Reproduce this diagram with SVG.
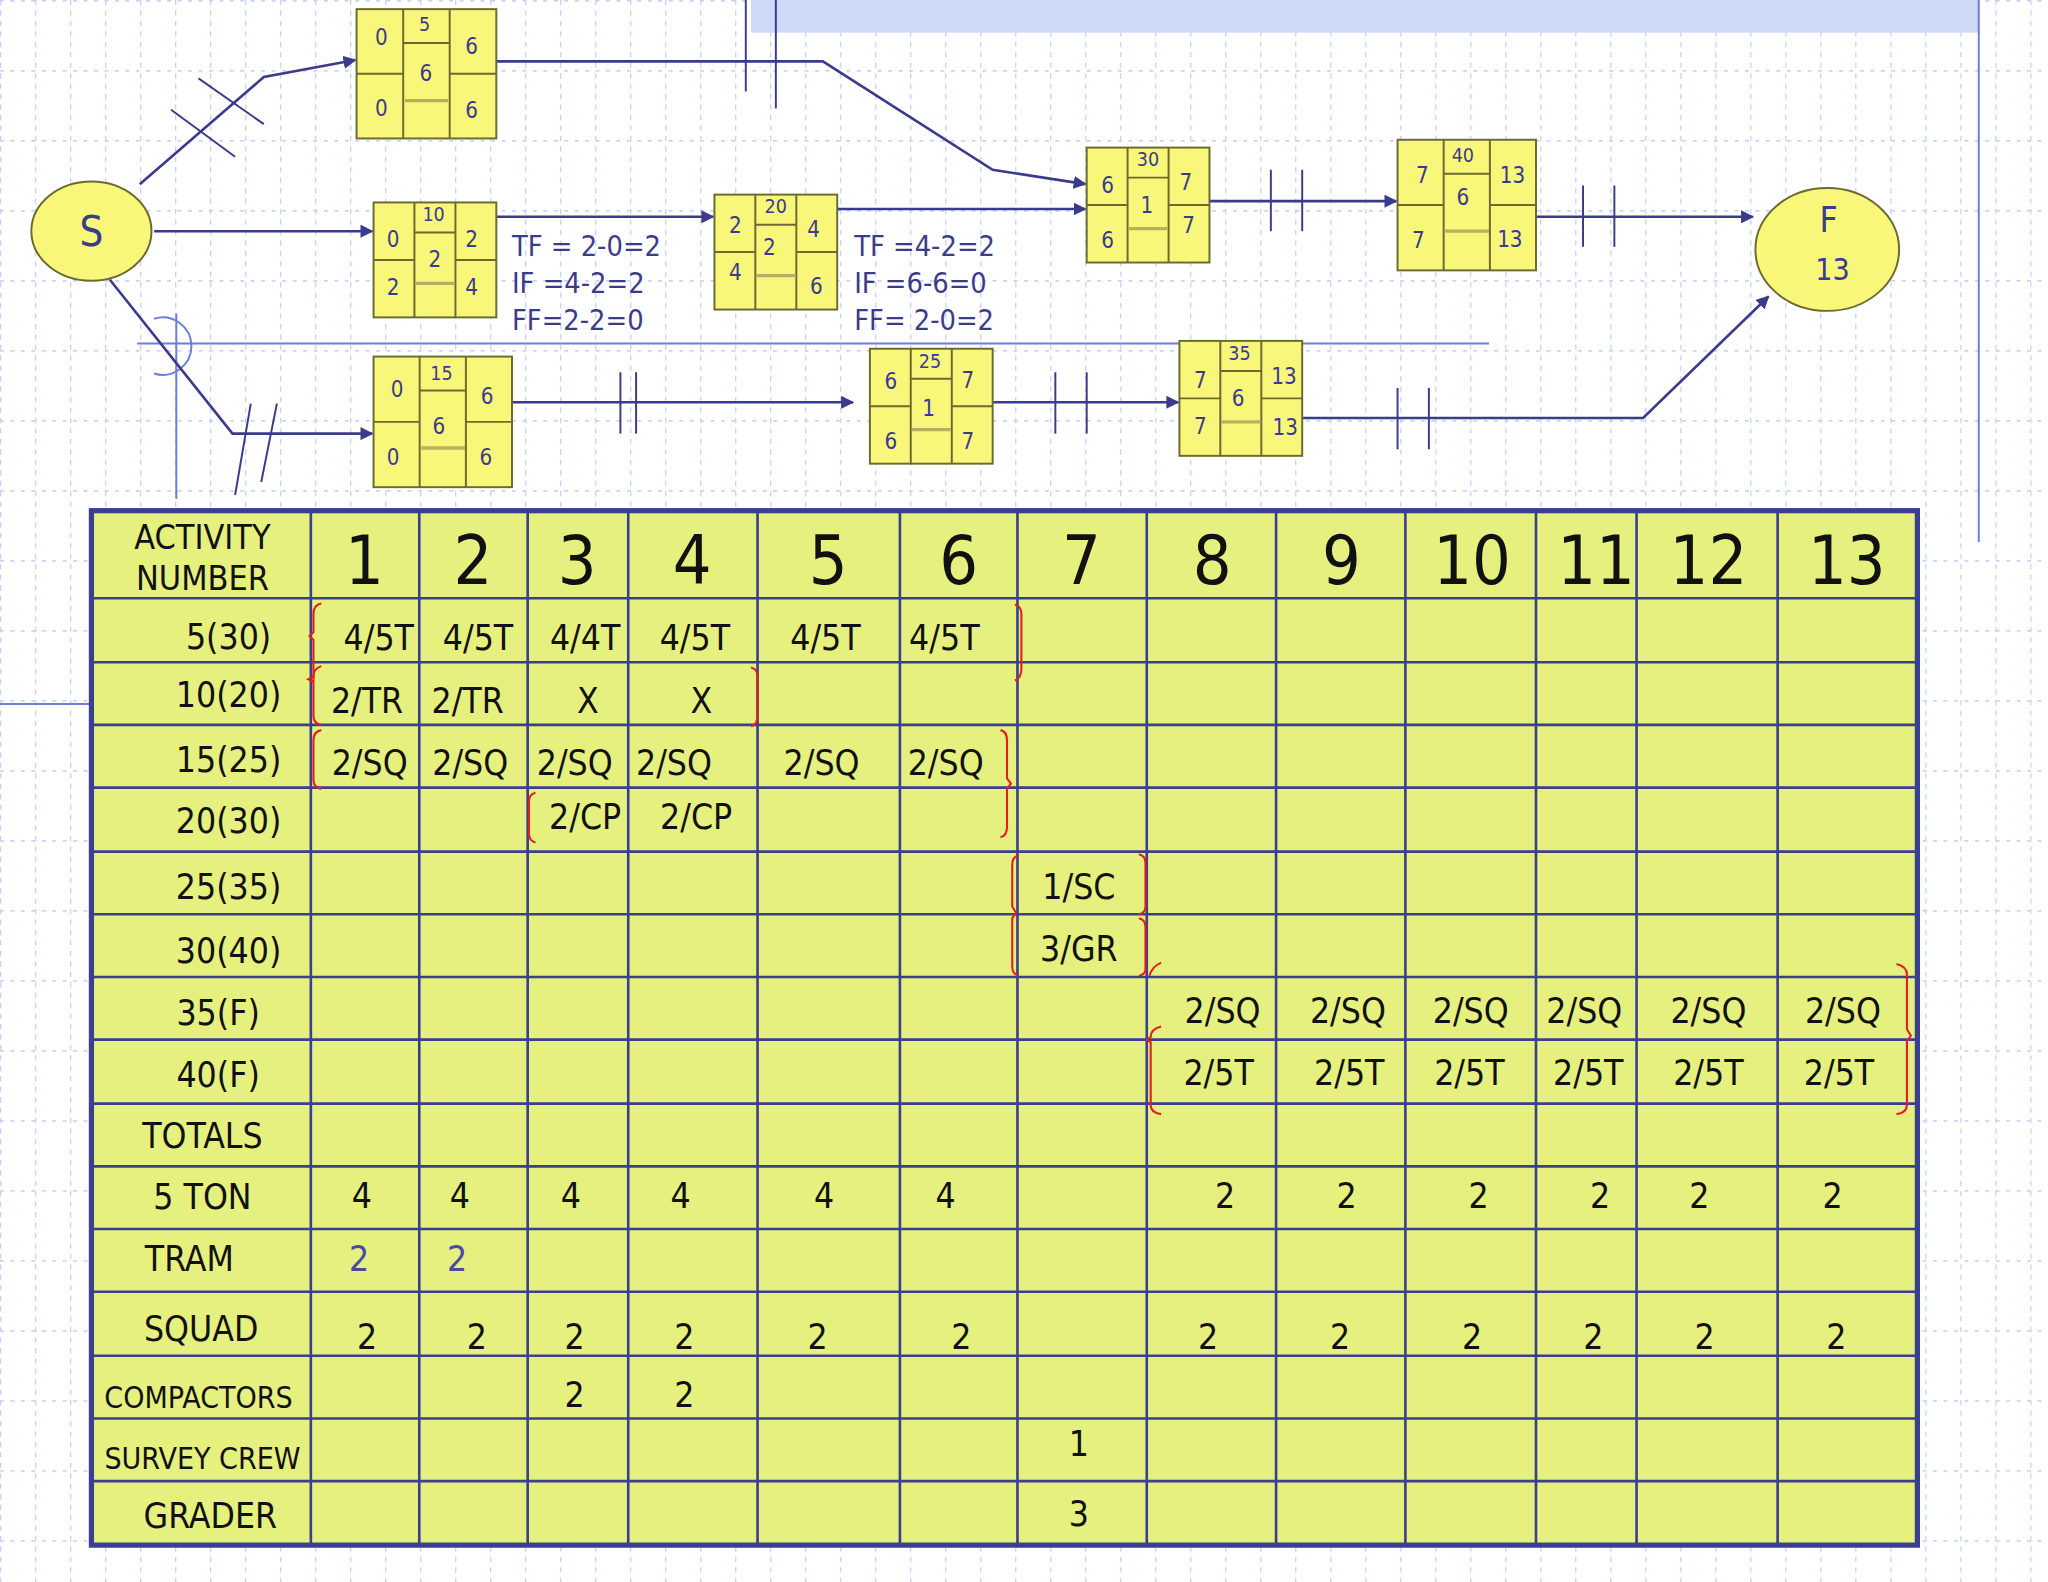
<svg xmlns="http://www.w3.org/2000/svg" width="2048" height="1582" viewBox="0 0 2048 1582">
<defs>
<style>
.t{font-family:'DejaVu Sans Condensed','DejaVu Sans',sans-serif;fill:#3b3b8c}
.n{font-size:17px;text-anchor:middle;dominant-baseline:central}
.nb{fill:#f9f77a;stroke:#6b6a30;stroke-width:1.5}
.nl{stroke:#6b6a30;stroke-width:1.5;fill:none}
.ng{stroke:#b8b060;stroke-width:2.5}
.c{stroke:#3b3b8c;stroke-width:2;fill:none}
.tk{stroke:#3b3b8c;stroke-width:1.5}
.tb{font-family:'DejaVu Sans Condensed','DejaVu Sans',sans-serif;fill:#111;text-anchor:middle}
.cell{font-size:27px}
.br{stroke:#e02020;stroke-width:1.6;fill:none}
.g{stroke:#3a3f8f;stroke-width:2}
</style>
<marker id="ah" markerWidth="10" markerHeight="10" refX="9" refY="5" orient="auto" markerUnits="userSpaceOnUse" viewBox="0 0 10 10"><path d="M0,0 L10,5 L0,10 z" fill="#3b3b8c"/></marker>
<pattern id="gridv" width="26.8" height="8" patternUnits="userSpaceOnUse"><line x1="0.5" y1="0" x2="0.5" y2="4" stroke="#c9d0f2" stroke-width="1"/></pattern>
<pattern id="gridh" width="8" height="53.6" patternUnits="userSpaceOnUse"><line x1="0" y1="0.5" x2="3" y2="0.5" stroke="#c9d0f2" stroke-width="1.5"/></pattern>
</defs>
<rect width="2048" height="1582" fill="#ffffff"/>
<g transform="scale(1.30612)">
<rect width="1568" height="1212" fill="url(#gridv)"/>
<rect width="1568" height="1212" fill="url(#gridh)"/>
<rect x="575" y="0" width="940" height="25" fill="#cdd9f7"/>
<line x1="1515" y1="0" x2="1515" y2="415" stroke="#6b7fd8" stroke-width="1.5"/>
<line x1="105" y1="263" x2="1140" y2="263" stroke="#6b7fd8" stroke-width="1.5"/>
<line x1="135" y1="240" x2="135" y2="382" stroke="#6b7fd8" stroke-width="1.5"/>
<path d="M118,244 A22,22 0 1,1 118,286" stroke="#6b7fd8" stroke-width="1.5" fill="none"/>
<line x1="0" y1="539" x2="70" y2="539" stroke="#6b7fd8" stroke-width="1.5"/>

<g id="connectors">
<polyline class="c" points="107,141 202,59 272,46" marker-end="url(#ah)"/>
<line class="tk" x1="131" y1="84" x2="180" y2="120"/>
<line class="tk" x1="152" y1="60" x2="202" y2="95"/>
<polyline class="c" points="380,47 630,47 760,130 831,141" marker-end="url(#ah)"/>
<line class="tk" x1="571" y1="0" x2="571" y2="70"/>
<line class="tk" x1="594" y1="0" x2="594" y2="83"/>
<line class="c" x1="118" y1="177" x2="285" y2="177" marker-end="url(#ah)"/>
<line class="c" x1="380" y1="166" x2="546" y2="166" marker-end="url(#ah)"/>
<line class="c" x1="641" y1="160" x2="831" y2="160" marker-end="url(#ah)"/>
<line class="c" x1="926" y1="154" x2="1069" y2="154" marker-end="url(#ah)"/>
<line class="tk" x1="973" y1="130" x2="973" y2="177"/>
<line class="tk" x1="997" y1="130" x2="997" y2="177"/>
<line class="c" x1="1176" y1="166" x2="1342" y2="166" marker-end="url(#ah)"/>
<line class="tk" x1="1212" y1="142" x2="1212" y2="189"/>
<line class="tk" x1="1236" y1="142" x2="1236" y2="189"/>
<polyline class="c" points="84,214 178,332 285,332" marker-end="url(#ah)"/>
<line class="tk" x1="180" y1="379" x2="192" y2="309"/>
<line class="tk" x1="200" y1="369" x2="212" y2="309"/>
<line class="c" x1="392" y1="308" x2="653" y2="308" marker-end="url(#ah)"/>
<line class="tk" x1="475" y1="285" x2="475" y2="332"/>
<line class="tk" x1="487" y1="285" x2="487" y2="332"/>
<line class="c" x1="760" y1="308" x2="902" y2="308" marker-end="url(#ah)"/>
<line class="tk" x1="808" y1="285" x2="808" y2="332"/>
<line class="tk" x1="832" y1="285" x2="832" y2="332"/>
<polyline class="c" points="997,320 1258,320 1354,227" marker-end="url(#ah)"/>
<line class="tk" x1="1070" y1="297" x2="1070" y2="344"/>
<line class="tk" x1="1094" y1="297" x2="1094" y2="344"/>
</g>

<g id="S"><ellipse cx="70" cy="177" rx="46" ry="38" class="nb"/><text class="t" x="70" y="177" font-size="32" text-anchor="middle" dominant-baseline="central">S</text></g>
<g id="F"><ellipse cx="1399" cy="191" rx="55" ry="47" class="nb"/><text class="t" x="1400" y="168" font-size="27" text-anchor="middle" dominant-baseline="central">F</text><text class="t" x="1403" y="206" font-size="23" text-anchor="middle" dominant-baseline="central">13</text></g>

<g id="n5"><rect class="nb" x="273" y="7" width="107" height="99"/><path class="nl" d="M308.7,7V106M344.3,7V106M273,56.5H308.7M344.3,56.5H380M308.7,33H344.3"/><line class="ng" x1="310" y1="77" x2="343" y2="77"/>
<g class="t n"><text x="325" y="19" font-size="15">5</text><text x="292" y="28">0</text><text x="326" y="56">6</text><text x="361" y="35">6</text><text x="292" y="83">0</text><text x="361" y="84">6</text></g></g>

<g id="n10"><rect class="nb" x="286" y="155" width="94" height="88"/><path class="nl" d="M317.3,155V243M348.7,155V243M286,199H317.3M348.7,199H380M317.3,178H348.7"/><line class="ng" x1="318" y1="217" x2="348" y2="217"/>
<g class="t n"><text x="332" y="164" font-size="15">10</text><text x="301" y="183">0</text><text x="333" y="198">2</text><text x="361" y="183">2</text><text x="301" y="220">2</text><text x="361" y="220">4</text></g></g>

<g id="n20"><rect class="nb" x="547" y="149" width="94" height="88"/><path class="nl" d="M578.3,149V237M609.7,149V237M547,193H578.3M609.7,193H641M578.3,172H609.7"/><line class="ng" x1="579" y1="211" x2="609" y2="211"/>
<g class="t n"><text x="594" y="158" font-size="15">20</text><text x="563" y="172">2</text><text x="589" y="189">2</text><text x="623" y="175">4</text><text x="563" y="208">4</text><text x="625" y="219">6</text></g></g>

<g id="n30"><rect class="nb" x="832" y="113" width="94" height="88"/><path class="nl" d="M863.3,113V201M894.7,113V201M832,157H863.3M894.7,157H926M863.3,136H894.7"/><line class="ng" x1="864" y1="175" x2="894" y2="175"/>
<g class="t n"><text x="879" y="122" font-size="15">30</text><text x="848" y="142">6</text><text x="878" y="157">1</text><text x="908" y="139">7</text><text x="848" y="184">6</text><text x="910" y="172">7</text></g></g>

<g id="n40"><rect class="nb" x="1070" y="107" width="106" height="100"/><path class="nl" d="M1105.3,107V207M1140.7,107V207M1070,157H1105.3M1140.7,157H1176M1105.3,133H1140.7"/><line class="ng" x1="1106" y1="177" x2="1140" y2="177"/>
<g class="t n"><text x="1120" y="119" font-size="15">40</text><text x="1089" y="134">7</text><text x="1120" y="151">6</text><text x="1158" y="134">13</text><text x="1086" y="184">7</text><text x="1156" y="183">13</text></g></g>

<g id="n15"><rect class="nb" x="286" y="273" width="106" height="100"/><path class="nl" d="M321.3,273V373M356.7,273V373M286,323H321.3M356.7,323H392M321.3,299H356.7"/><line class="ng" x1="322" y1="343" x2="356" y2="343"/>
<g class="t n"><text x="338" y="286" font-size="15">15</text><text x="304" y="298">0</text><text x="336" y="326">6</text><text x="373" y="303">6</text><text x="301" y="350">0</text><text x="372" y="350">6</text></g></g>

<g id="n25"><rect class="nb" x="666" y="267" width="94" height="88"/><path class="nl" d="M697.3,267V355M728.7,267V355M666,311H697.3M728.7,311H760M697.3,290H728.7"/><line class="ng" x1="698" y1="329" x2="728" y2="329"/>
<g class="t n"><text x="712" y="277" font-size="15">25</text><text x="682" y="292">6</text><text x="711" y="312">1</text><text x="741" y="291">7</text><text x="682" y="338">6</text><text x="741" y="338">7</text></g></g>

<g id="n35"><rect class="nb" x="903" y="261" width="94" height="88"/><path class="nl" d="M934.3,261V349M965.7,261V349M903,305H934.3M965.7,305H997M934.3,284H965.7"/><line class="ng" x1="935" y1="323" x2="965" y2="323"/>
<g class="t n"><text x="949" y="271" font-size="15">35</text><text x="919" y="291">7</text><text x="948" y="305">6</text><text x="983" y="288">13</text><text x="919" y="326">7</text><text x="984" y="327">13</text></g></g>

<g id="notes" class="t" font-size="22">
<text x="392" y="196">TF = 2-0=2</text><text x="392" y="224">IF =4-2=2</text><text x="392" y="253">FF=2-2=0</text>
<text x="654" y="196">TF =4-2=2</text><text x="654" y="224">IF =6-6=0</text><text x="654" y="253">FF= 2-0=2</text>
</g>

<g id="table">
<rect x="70" y="391" width="1398" height="792" fill="#e5f07f"/>
<path class="g" d="M238,391V1183M321,391V1183M404,391V1183M481,391V1183M580,391V1183M689,391V1183M779,391V1183M878,391V1183M977,391V1183M1076,391V1183M1176,391V1183M1253,391V1183M1361,391V1183
M70,458H1468M70,507H1468M70,555H1468M70,603H1468M70,652H1468M70,700H1468M70,748H1468M70,796H1468M70,845H1468M70,893H1468M70,941H1468M70,989H1468M70,1038H1468M70,1086H1468M70,1134H1468"/>
<rect x="70" y="391" width="1398" height="792" fill="none" stroke="#3a3f8f" stroke-width="4"/>
<g class="tb" font-size="26"><text x="155" y="420">ACTIVITY</text><text x="155" y="452">NUMBER</text></g>
<g class="tb" font-size="52"><text x="279" y="447">1</text><text x="362" y="447">2</text><text x="442" y="447">3</text><text x="530" y="447">4</text><text x="634" y="447">5</text><text x="734" y="447">6</text><text x="828" y="447">7</text><text x="928" y="447">8</text><text x="1027" y="447">9</text><text x="1127" y="447">10</text><text x="1222" y="447">11</text><text x="1308" y="447">12</text><text x="1414" y="447">13</text></g>
<g class="tb" font-size="27"><text x="175" y="497">5(30)</text><text x="175" y="541">10(20)</text><text x="175" y="591">15(25)</text><text x="175" y="638">20(30)</text><text x="175" y="688">25(35)</text><text x="175" y="737">30(40)</text><text x="167" y="785">35(F)</text><text x="167" y="832">40(F)</text><text x="155" y="879">TOTALS</text><text x="155" y="926">5 TON</text><text x="145" y="973">TRAM</text><text x="154" y="1027">SQUAD</text><text x="161" y="1170">GRADER</text></g>
<g class="tb" font-size="23"><text x="152" y="1078">COMPACTORS</text><text x="155" y="1125">SURVEY CREW</text></g>
<g class="tb cell">
<text x="290" y="498">4/5T</text><text x="366" y="498">4/5T</text><text x="448" y="498">4/4T</text><text x="532" y="498">4/5T</text><text x="632" y="498">4/5T</text><text x="723" y="498">4/5T</text>
<text x="281" y="546">2/TR</text><text x="358" y="546">2/TR</text><text x="450" y="546">X</text><text x="537" y="546">X</text>
<text x="283" y="593">2/SQ</text><text x="360" y="593">2/SQ</text><text x="440" y="593">2/SQ</text><text x="516" y="593">2/SQ</text><text x="629" y="593">2/SQ</text><text x="724" y="593">2/SQ</text>
<text x="448" y="635">2/CP</text><text x="533" y="635">2/CP</text>
<text x="826" y="688">1/SC</text><text x="826" y="736">3/GR</text>
<text x="936" y="783">2/SQ</text><text x="1032" y="783">2/SQ</text><text x="1126" y="783">2/SQ</text><text x="1213" y="783">2/SQ</text><text x="1308" y="783">2/SQ</text><text x="1411" y="783">2/SQ</text>
<text x="933" y="831">2/5T</text><text x="1033" y="831">2/5T</text><text x="1125" y="831">2/5T</text><text x="1216" y="831">2/5T</text><text x="1308" y="831">2/5T</text><text x="1408" y="831">2/5T</text>
<text x="277" y="925">4</text><text x="352" y="925">4</text><text x="437" y="925">4</text><text x="521" y="925">4</text><text x="631" y="925">4</text><text x="724" y="925">4</text>
<text x="938" y="925">2</text><text x="1031" y="925">2</text><text x="1132" y="925">2</text><text x="1225" y="925">2</text><text x="1301" y="925">2</text><text x="1403" y="925">2</text>
<text x="275" y="973" style="fill:#4a4aa0">2</text><text x="350" y="973" style="fill:#4a4aa0">2</text>
<text x="281" y="1033">2</text><text x="365" y="1033">2</text><text x="440" y="1033">2</text><text x="524" y="1033">2</text><text x="626" y="1033">2</text><text x="736" y="1033">2</text>
<text x="925" y="1033">2</text><text x="1026" y="1033">2</text><text x="1127" y="1033">2</text><text x="1220" y="1033">2</text><text x="1305" y="1033">2</text><text x="1406" y="1033">2</text>
<text x="440" y="1077">2</text><text x="524" y="1077">2</text>
<text x="826" y="1115">1</text><text x="826" y="1168">3</text>
</g>
<g id="brackets">
<path class="br" d="M246,462 Q240,463 240,470 V484 L237,487 L240,490 V548 Q240,554 246,555"/>
<path class="br" d="M246,510 Q240,512 240,518 L236,520 L240,522"/>
<path class="br" d="M246,559 Q240,560 240,567 V597 Q240,603 246,604"/>
<path class="br" d="M777,463 Q782,464 782,470 V512 Q782,519 777,521"/>
<path class="br" d="M575,511 Q580,512 580,518 V548 Q580,555 575,556"/>
<path class="br" d="M766,559 Q771,560 771,567 V596 L774,600 L771,604 V633 Q771,640 766,641"/>
<path class="br" d="M410,607 Q405,608 405,614 V638 Q405,644 410,645"/>
<path class="br" d="M780,655 Q775,656 775,662 V694 L778,699 L775,703 V740 Q775,746 780,747"/>
<path class="br" d="M872,654 Q877,655 877,661 V694 Q877,699 872,700"/>
<path class="br" d="M872,703 Q877,704 877,710 V742 Q877,746 872,747"/>
<path class="br" d="M889,737 Q882,740 880,747"/>
<path class="br" d="M889,786 Q881,788 881,794 L878,796 L881,798 V846 Q881,852 889,853"/>
<path class="br" d="M1452,738 Q1460,740 1460,746 V788 L1463,793 L1460,797 V846 Q1460,852 1452,853"/>
</g>
</g>
</g>
</svg>
